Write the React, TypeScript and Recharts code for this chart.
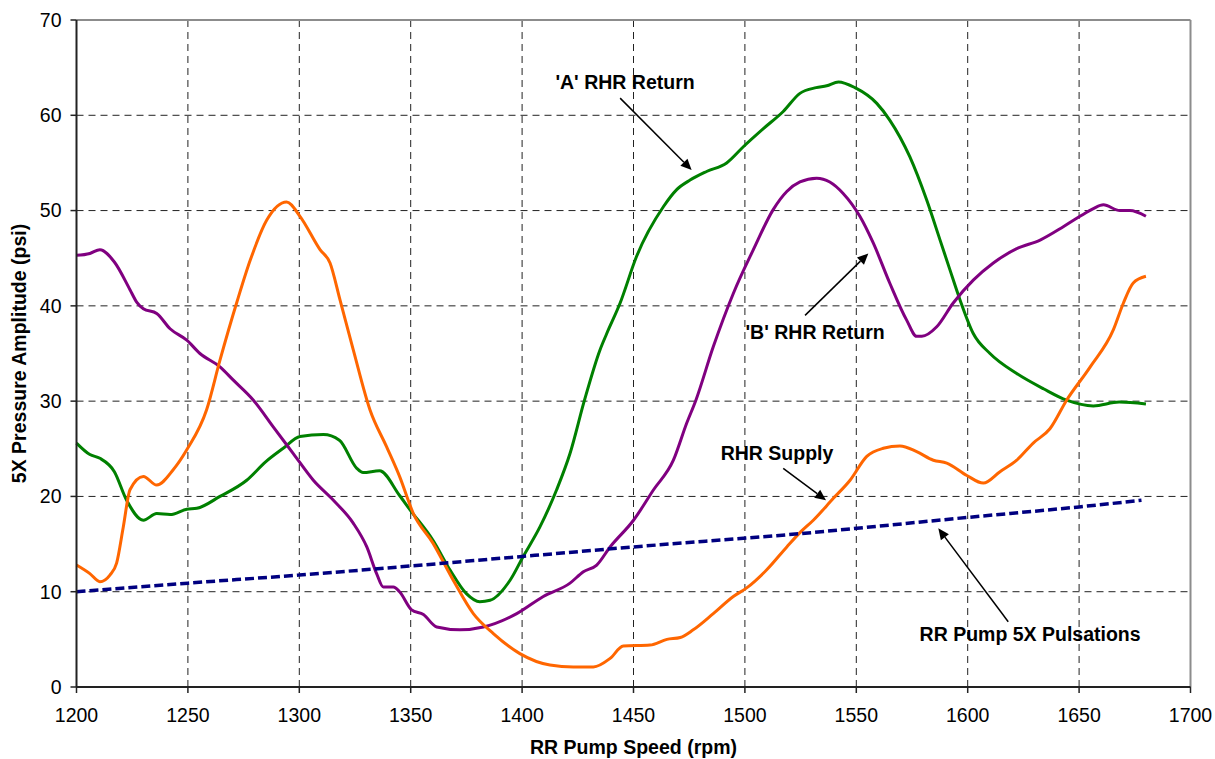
import React from "react";
import {
  LineChart,
  Line,
  XAxis,
  YAxis,
  CartesianGrid,
  ReferenceLine,
  ReferenceDot,
} from "recharts";

// 'A' RHR Return (green)
const aRpm = [1200, 1206, 1210.5, 1217, 1222.5, 1230, 1236, 1242, 1249.5, 1254, 1264.4, 1276.4, 1285, 1292.8, 1300.3, 1310.8, 1318, 1325.8, 1328.6, 1336, 1345, 1349.7, 1360, 1367.6, 1375, 1381, 1385.6, 1394.6, 1400.5, 1408, 1415.5, 1421.5, 1428, 1435, 1438, 1444, 1451.4, 1463.4, 1469.4, 1475.4, 1482.8, 1491.8, 1499.3, 1508.3, 1517.2, 1524.7, 1532, 1536.7, 1542, 1549.4, 1559.2, 1565, 1574, 1581.6, 1587.6, 1592, 1596.6, 1602.5, 1610, 1622, 1634, 1644.4, 1656.4, 1668, 1680];
const aPsi = [25.6, 24.4, 24.0, 22.6, 19.6, 17.5, 18.2, 18.1, 18.65, 18.75, 20.0, 21.7, 23.65, 25.05, 26.3, 26.5, 25.9, 22.95, 22.5, 22.7, 20.1, 18.6, 15.4, 12.3, 9.8, 8.95, 9.1, 11.2, 13.7, 16.8, 20.7, 24.5, 30.1, 35.4, 37.1, 40.3, 45.2, 50.4, 52.2, 53.2, 54.1, 55.0, 56.7, 58.6, 60.4, 62.3, 62.9, 63.1, 63.5, 62.9, 61.25, 59.5, 55.65, 51.1, 46.9, 43.8, 40.6, 37.1, 35.0, 32.9, 31.3, 30.1, 29.5, 29.9, 29.7];

// 'B' RHR Return (purple)
const bRpm = [1200, 1206, 1210.5, 1217, 1224, 1227, 1230, 1236, 1242, 1249.5, 1255.4, 1264.4, 1270.4, 1279.4, 1288.3, 1297.3, 1306.3, 1315.3, 1324.2, 1330.3, 1334.7, 1337.7, 1342.2, 1345, 1350.4, 1355.7, 1361.7, 1372.1, 1382.6, 1397.6, 1409.5, 1421.5, 1427.5, 1433.5, 1439.5, 1450, 1459, 1467.9, 1473.9, 1478, 1485.8, 1494.8, 1503.8, 1512.7, 1518.8, 1524.7, 1532.2, 1538.1, 1544.1, 1551.6, 1557.6, 1565, 1572.6, 1577.1, 1579.4, 1586.1, 1593.5, 1602.5, 1611.5, 1622, 1632.5, 1642.9, 1650.4, 1656.4, 1660.9, 1668.3, 1672.8, 1680];
const bPsi = [45.3, 45.5, 45.9, 44.6, 41.7, 40.4, 39.7, 39.2, 37.6, 36.4, 35.0, 33.6, 32.2, 30.1, 27.3, 24.5, 21.7, 19.6, 17.2, 14.7, 11.9, 10.5, 10.5, 10.0, 8.1, 7.6, 6.3, 6.0, 6.3, 7.7, 9.5, 10.9, 12.1, 12.8, 14.7, 17.5, 20.7, 23.8, 27.7, 30.1, 35.7, 41.3, 45.9, 50.1, 52.0, 53.0, 53.4, 53.0, 51.8, 49.4, 46.6, 42.4, 38.5, 36.8, 36.8, 37.8, 40.3, 42.7, 44.5, 46.0, 46.9, 48.3, 49.4, 50.2, 50.6, 50.0, 50.0, 49.4];

// RHR Supply (orange)
const sRpm = [1200, 1206, 1210.5, 1215, 1218, 1221, 1224, 1230, 1236, 1243.4, 1249.5, 1258.4, 1264.4, 1272, 1278, 1285.4, 1294.3, 1300.3, 1309.3, 1313.8, 1318.3, 1324.2, 1331.7, 1339.2, 1345, 1351.2, 1360, 1369.1, 1378.1, 1387.1, 1399, 1412.5, 1423, 1432, 1439.5, 1445.4, 1457.4, 1465, 1471, 1476.8, 1485.8, 1494.8, 1500.8, 1509.8, 1518.8, 1524.7, 1530.7, 1539.7, 1547.2, 1554.7, 1562.1, 1569.6, 1577.1, 1584.6, 1590.6, 1599.6, 1607, 1614.5, 1622, 1629.4, 1636.9, 1644.4, 1655, 1665.4, 1669.9, 1674.3, 1680];
const sPsi = [12.8, 11.9, 11.05, 11.75, 13.0, 16.8, 20.7, 22.1, 21.2, 22.8, 24.9, 29.1, 34.3, 40.4, 44.8, 49.0, 50.9, 49.4, 45.9, 44.5, 40.6, 35.4, 29.1, 25.2, 22.1, 18.2, 15.1, 11.2, 7.7, 5.6, 3.5, 2.3, 2.1, 2.1, 3.0, 4.3, 4.4, 5.0, 5.2, 6.0, 7.7, 9.5, 10.4, 12.3, 14.7, 16.2, 17.5, 19.8, 21.7, 24.2, 25.05, 25.3, 24.7, 23.8, 23.5, 22.2, 21.4, 22.6, 23.8, 25.6, 27.1, 30.1, 33.6, 37.5, 40.3, 42.4, 43.1];

// RR Pump 5X Pulsations (navy dashed)
const pRpm = [1200, 1250, 1300, 1345, 1400, 1450, 1525, 1600, 1650, 1678];
const pPsi = [10.0, 10.9, 11.75, 12.6, 13.7, 14.7, 16.1, 17.8, 18.9, 19.6];

const xTicks = [1200, 1250, 1300, 1350, 1400, 1450, 1500, 1550, 1600, 1650, 1700];
const yTicks = [0, 10, 20, 30, 40, 50, 60, 70];
const gridX = [1250, 1300, 1350, 1400, 1450, 1500, 1550, 1600, 1650];
const gridY = [10, 20, 30, 40, 50, 60];

// annotations: label, label position (rpm, psi), arrow tail, arrow tip
const annLabels = ["'A' RHR Return", "'B' RHR Return", "RHR Supply", "RR Pump 5X Pulsations"];
const annText = [[1446.2, 63.5], [1531.5, 37.3], [1514.4, 24.5], [1628.0, 5.6]];
const annTail = [[1444, 61.8], [1527, 39.0], [1517.2, 22.95], [1618.2, 6.85]];
const annTip = [[1476.1, 54.25], [1555.4, 45.5], [1536.4, 19.6], [1586.8, 16.65]];

const toData = (xs: number[], ys: number[]) => xs.map((x, i) => ({ x, y: ys[i] }));
const aData = toData(aRpm, aPsi);
const bData = toData(bRpm, bPsi);
const sData = toData(sRpm, sPsi);
const pData = toData(pRpm, pPsi);

const FONT = "'Liberation Sans', Arial, Helvetica, sans-serif";
const FS = 19.5;

const Arrow = (props: any) => {
  const { x1, y1, x2, y2 } = props;
  if ([x1, y1, x2, y2].some((v) => typeof v !== "number" || isNaN(v))) return null;
  const dx = x2 - x1;
  const dy = y2 - y1;
  const len = Math.sqrt(dx * dx + dy * dy) || 1;
  const ux = dx / len;
  const uy = dy / len;
  const hl = 11;
  const hw = 5;
  const bx = x2 - ux * hl;
  const by = y2 - uy * hl;
  const pts = `${x2},${y2} ${bx - uy * hw},${by + ux * hw} ${bx + uy * hw},${by - ux * hw}`;
  return (
    <g>
      <line x1={x1} y1={y1} x2={bx} y2={by} stroke="#000" strokeWidth={1.5} />
      <polygon points={pts} fill="#000" />
    </g>
  );
};

export default function App() {
  return (
    <div style={{ position: "absolute", left: 0, top: 0, width: 1215, height: 759, background: "#fff" }}>
      <LineChart
        width={1215}
        height={759}
        margin={{ top: 20, right: 24.5, bottom: 0, left: 0 }}
        style={{ fontFamily: FONT }}
      >
        <CartesianGrid
          horizontalValues={gridY}
          verticalValues={gridX}
          stroke="#222"
          strokeDasharray="7 5"
          strokeWidth={1}
        />
        <XAxis
          type="number"
          dataKey="x"
          domain={[1200, 1700]}
          ticks={xTicks}
          interval={0}
          height={72}
          tickSize={6}
          tickMargin={15}
          axisLine={{ stroke: "#222", strokeWidth: 2 }}
          tickLine={{ stroke: "#222", strokeWidth: 1.5 }}
          tick={{ fill: "#000", fontSize: FS, fontFamily: FONT }}
          label={{
            value: "RR Pump Speed (rpm)",
            position: "insideBottom",
            offset: 5,
            style: { fontWeight: "bold", fontSize: FS, fill: "#000", fontFamily: FONT },
          }}
        />
        <YAxis
          type="number"
          domain={[0, 70]}
          ticks={yTicks}
          interval={0}
          width={76.5}
          tickSize={6}
          tickMargin={9}
          axisLine={{ stroke: "#222", strokeWidth: 2 }}
          tickLine={{ stroke: "#222", strokeWidth: 1.5 }}
          tick={{ fill: "#000", fontSize: FS, fontFamily: FONT }}
          label={{
            value: "5X Pressure Amplitude (psi)",
            angle: -90,
            position: "insideLeft",
            offset: 19,
            style: { textAnchor: "middle", fontWeight: "bold", fontSize: FS, fill: "#000", fontFamily: FONT },
          }}
        />
        <ReferenceLine y={70} stroke="#8c8c8c" strokeWidth={2} />
        <ReferenceLine x={1700} stroke="#8c8c8c" strokeWidth={2} />
        <Line data={aData} dataKey="y" type="monotone" stroke="#008000" strokeWidth={3} dot={false} activeDot={false} isAnimationActive={false} />
        <Line data={bData} dataKey="y" type="monotone" stroke="#800080" strokeWidth={3} dot={false} activeDot={false} isAnimationActive={false} />
        <Line data={sData} dataKey="y" type="monotone" stroke="#FF6600" strokeWidth={3} dot={false} activeDot={false} isAnimationActive={false} />
        <Line data={pData} dataKey="y" type="monotone" stroke="#000080" strokeWidth={3.5} strokeDasharray="9 4" dot={false} activeDot={false} isAnimationActive={false} />
        {annLabels.map((t, i) => (
          <ReferenceLine
            key={"arrow" + i}
            segment={[
              { x: annTail[i][0], y: annTail[i][1] },
              { x: annTip[i][0], y: annTip[i][1] },
            ]}
            shape={Arrow}
          />
        ))}
        {annLabels.map((t, i) => (
          <ReferenceDot
            key={"lbl" + i}
            x={annText[i][0]}
            y={annText[i][1]}
            r={1}
            fill="none"
            stroke="none"
            label={{
              value: t,
              position: "center",
              style: { fontWeight: "bold", fontSize: FS, fill: "#000", fontFamily: FONT },
            }}
          />
        ))}
      </LineChart>
    </div>
  );
}
